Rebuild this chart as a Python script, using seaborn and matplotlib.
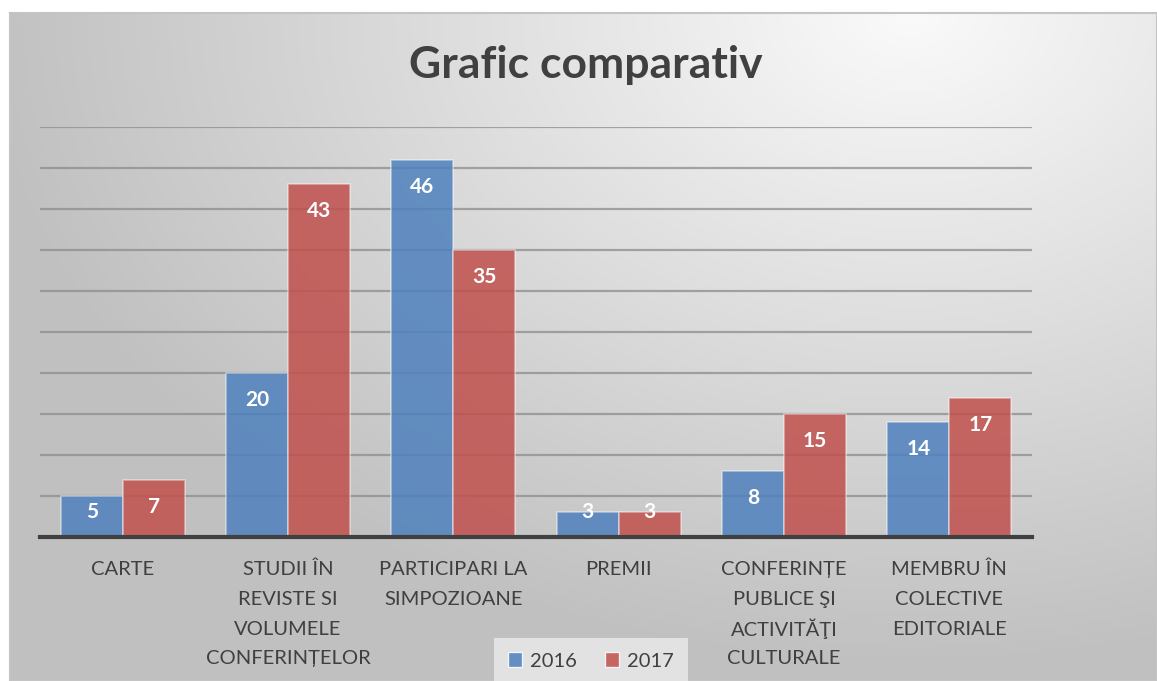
import numpy as np
import pandas as pd
import matplotlib
matplotlib.use("Agg")
import matplotlib.pyplot as plt
import matplotlib.transforms as mtransforms
import seaborn as sns
from matplotlib.patches import Patch

categories = ["CARTE",
              "STUDII ÎN\nREVISTE SI\nVOLUMELE\nCONFERINȚELOR",
              "PARTICIPARI LA\nSIMPOZIOANE",
              "PREMII",
              "CONFERINȚE\nPUBLICE ŞI\nACTIVITĂŢI\nCULTURALE",
              "MEMBRU ÎN\nCOLECTIVE\nEDITORIALE"]
values_2016 = [5, 20, 46, 3, 8, 14]
values_2017 = [7, 43, 35, 3, 15, 17]
years = ["2016", "2017"]
title = "Grafic comparativ"

sns.set_theme(style="white")
plt.rcParams['font.family'] = ['Lato', 'DejaVu Sans']

W, H = 1157, 681
fig = plt.figure(figsize=(W / 100, H / 100), dpi=100)
fig.patch.set_facecolor("white")

# background gradient frame
fx0, fy0 = 10, 13
fw, fh = W - fx0, H - fy0
bg = fig.add_axes([fx0 / W, 0, fw / W, fh / H], zorder=0)
yy, xx = np.mgrid[0:fh, 0:fw]
cx, cy = 900, 0
t = np.sqrt(((xx - cx) / 1000.0) ** 2 + ((yy - cy) / 700.0) ** 2)
val = np.clip(250 - 62 * t, 192, 250) / 255.0
img = np.dstack([val, val, val])
bg.imshow(img, aspect="auto", extent=[0, fw, fh, 0], interpolation="bilinear")
bg.set_xticks([]); bg.set_yticks([])
for s in bg.spines.values():
    s.set_color("#c4c4c4"); s.set_linewidth(1.5)

# main axes
left, right = 40 / W, 1032 / W
top, bottom = 1 - 127 / H, 1 - 537 / H
ax = fig.add_axes([left, bottom, right - left, top - bottom], zorder=1)
ax.set_facecolor("none")

df = pd.DataFrame({
    "cat": categories * 2,
    "val": values_2016 + values_2017,
    "year": [years[0]] * len(categories) + [years[1]] * len(categories),
})
colors = {"2016": "#4F81BD", "2017": "#C0504D"}
sns.barplot(data=df, x="cat", y="val", hue="year", palette=colors,
            width=0.75, gap=0, ax=ax, legend=False, zorder=3,
            edgecolor=(1, 1, 1, 0.45), linewidth=1.2, saturation=1)
for p in ax.patches:
    fc = p.get_facecolor()
    p.set_facecolor((fc[0], fc[1], fc[2], 0.85))

ax.set_ylim(0, 50)
ax.set_xlim(-0.5, len(categories) - 0.5)
ax.set_yticks([])
for yv in range(5, 51, 5):
    ax.axhline(yv, color="#8c8c8c", lw=1.6, alpha=0.75, zorder=1)
for s in ["top", "right", "left"]:
    ax.spines[s].set_visible(False)
ax.spines["bottom"].set_color("#404040")
ax.spines["bottom"].set_linewidth(3)
ax.spines["bottom"].set_zorder(5)
ax.set_xlabel(""); ax.set_ylabel("")
ax.tick_params(axis="x", length=0)
ax.set_xticks(range(len(categories)))
ax.set_xticklabels([""] * len(categories))

# category labels, one line at a time for even spacing
base = mtransforms.blended_transform_factory(ax.transData, ax.transAxes)
for i, lab in enumerate(categories):
    for j, line in enumerate(lab.split("\n")):
        tr = mtransforms.offset_copy(base, fig=fig, x=0, y=-(31 + 29.8 * j) * 0.72,
                                     units="points")
        ax.text(i, 0, line, transform=tr, ha="center", va="center_baseline",
                fontsize=14.5, color="#404040", clip_on=False)

# data labels
for container in ax.containers:
    for bar in container:
        v = bar.get_height()
        xc = bar.get_x() + bar.get_width() / 2
        ly = max(v - 3.3, 3.05)
        ax.text(xc, ly, f"{int(v)}", ha="center", va="center",
                color="white", fontsize=15, fontweight="bold", zorder=6)

fig.text(586 / W, 1 - 78 / H, title, ha="center", va="baseline",
         fontsize=32, fontweight="bold", color="#404040")

handles = [Patch(facecolor=colors[y], edgecolor=(1, 1, 1, 0.5), alpha=0.85, label=y)
           for y in years]
leg = fig.legend(handles=handles, loc="center", ncol=2,
                 bbox_to_anchor=(591 / W, 1 - 661 / H), frameon=True,
                 fancybox=False, fontsize=14.5, handlelength=0.7, handleheight=0.7,
                 handletextpad=0.4, columnspacing=1.4, borderpad=0.7)
leg.get_frame().set_facecolor("#e6e6e6")
leg.get_frame().set_edgecolor("none")
leg.get_frame().set_alpha(0.9)
for txt in leg.get_texts():
    txt.set_color("#404040")

fig.savefig("out.png", dpi=100)
